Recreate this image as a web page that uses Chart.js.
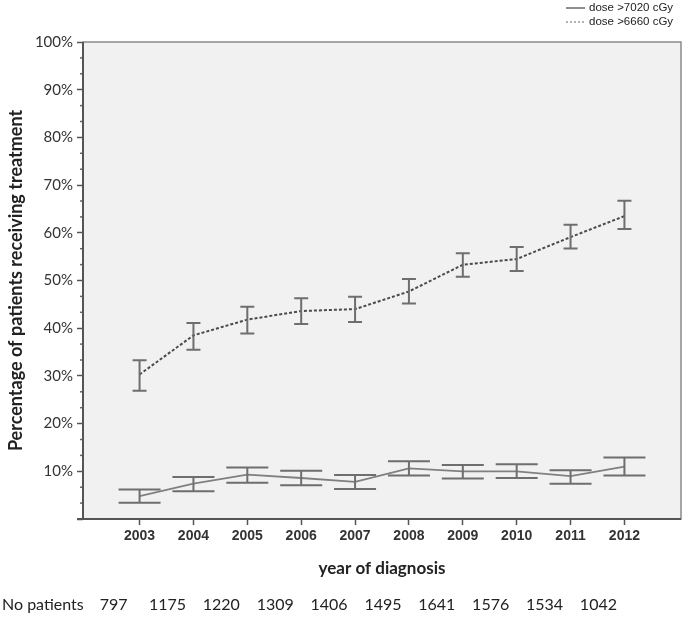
<!DOCTYPE html>
<html>
<head>
<meta charset="utf-8">
<script src="https://cdn.jsdelivr.net/npm/chart.js@4.4.1/dist/chart.umd.min.js"></script>
<style>
  html, body { margin: 0; padding: 0; background: #fff; }
  #wrap { position: relative; width: 685px; height: 618px; }
</style>
</head>
<body>
<div id="wrap"><canvas id="Chart" width="685" height="618"></canvas></div>
<script>
// data
const years = [2003, 2004, 2005, 2006, 2007, 2008, 2009, 2010, 2011, 2012];
const patients = [797, 1175, 1220, 1309, 1406, 1495, 1641, 1576, 1534, 1042];

const dose7020 = [4.8, 7.4, 9.3, 8.6, 7.8, 10.6, 10.0, 10.0, 9.0, 11.0];
const dose7020Low = [3.4, 5.8, 7.6, 7.1, 6.3, 9.1, 8.5, 8.6, 7.4, 9.1];
const dose7020High = [6.2, 8.8, 10.8, 10.1, 9.2, 12.1, 11.3, 11.5, 10.2, 12.9];

const dose6660 = [30.3, 38.5, 41.8, 43.6, 44.0, 47.7, 53.3, 54.5, 59.1, 63.5];
const dose6660Low = [26.9, 35.5, 38.9, 40.9, 41.3, 45.2, 50.8, 52.0, 56.7, 60.8];
const dose6660High = [33.3, 41.1, 44.5, 46.3, 46.6, 50.3, 55.7, 57.0, 61.7, 66.7];

const yTicks = [0, 10, 20, 30, 40, 50, 60, 70, 80, 90, 100];

function pts(vals) {
  return years.map((y, i) => ({x: y, y: vals[i]}));
}

// background, frame, error bars, minor ticks, extra texts
const extras = {
  id: 'extras',
  beforeDatasetsDraw(chart) {
    const {ctx, chartArea: a} = chart;
    ctx.save();
    ctx.fillStyle = '#f1f1f1';
    ctx.fillRect(a.left, a.top, a.right - a.left, a.bottom - a.top);
    ctx.strokeStyle = '#8a8a8a';
    ctx.lineWidth = 1.5;
    ctx.strokeRect(a.left, a.top, a.right - a.left, a.bottom - a.top);
    // minor ticks on y
    const ys = chart.scales.y;
    ctx.strokeStyle = '#666';
    ctx.lineWidth = 1.5;
    for (let v = 0; v < 100; v += 10) {
      for (const m of [10 / 3, 20 / 3]) {
        const py = ys.getPixelForValue(v + m);
        ctx.beginPath();
        ctx.moveTo(a.left - 3, py);
        ctx.lineTo(a.left, py);
        ctx.stroke();
      }
    }
    ctx.restore();
  },
  afterDatasetsDraw(chart) {
    const {ctx, chartArea: a} = chart;
    const xs = chart.scales.x, ys = chart.scales.y;
    ctx.save();
    ctx.strokeStyle = '#6e6e6e';
    ctx.lineWidth = 2;
    const bars = [[dose7020Low, dose7020High, 21], [dose6660Low, dose6660High, 7]];
    bars.forEach(([lo, hi, w]) => {
      years.forEach((yr, i) => {
        const px = xs.getPixelForValue(yr);
        const p1 = ys.getPixelForValue(lo[i]);
        const p2 = ys.getPixelForValue(hi[i]);
        ctx.beginPath();
        ctx.moveTo(px, p1); ctx.lineTo(px, p2);
        ctx.moveTo(px - w, p1); ctx.lineTo(px + w, p1);
        ctx.moveTo(px - w, p2); ctx.lineTo(px + w, p2);
        ctx.stroke();
      });
    });
    // axis lines
    ctx.strokeStyle = '#555';
    ctx.lineWidth = 2;
    ctx.beginPath();
    ctx.moveTo(a.left, a.top); ctx.lineTo(a.left, a.bottom);
    ctx.moveTo(a.left - 6, a.bottom); ctx.lineTo(a.right, a.bottom);
    ctx.stroke();

    // x title
    ctx.fillStyle = '#222';
    ctx.textAlign = 'center';
    ctx.textBaseline = 'middle';
    ctx.font = 'bold 17px Lato';
    ctx.fillText('year of diagnosis', (a.left + a.right) / 2, 569);

    // patients row
    ctx.font = '16px Lato';
    ctx.textAlign = 'left';
    ctx.fillText('No patients', 2, 605);
    ctx.textAlign = 'center';
    years.forEach((yr, i) => {
      ctx.fillText(String(patients[i]), xs.getPixelForValue(yr) - 26, 605);
    });

    // legend
    ctx.font = '11.5px "Liberation Sans"';
    ctx.textAlign = 'left';
    ctx.fillStyle = '#222';
    const legend = [['dose >7020 cGy', [], '#444', 1.2, 8], ['dose >6660 cGy', [2, 2], '#666', 1.2, 22]];
    legend.forEach(([txt, dash, col, lw, y]) => {
      ctx.strokeStyle = col;
      ctx.lineWidth = lw;
      ctx.setLineDash(dash);
      ctx.beginPath();
      ctx.moveTo(566, y); ctx.lineTo(585, y);
      ctx.stroke();
      ctx.fillText(txt, 589, y);
    });
    ctx.restore();
  }
};

const ctx = document.getElementById('Chart').getContext('2d');
const myChart = new Chart(ctx, {
  type: 'line',
  data: {
    datasets: [{
      label: 'dose >7020 cGy',
      data: pts(dose7020),
      borderColor: '#808080',
      borderWidth: 1.8,
      pointRadius: 0,
      tension: 0
    }, {
      label: 'dose >6660 cGy',
      data: pts(dose6660),
      borderColor: '#4a4a4a',
      borderWidth: 2,
      borderDash: [3, 2],
      pointRadius: 0,
      tension: 0
    }]
  },
  options: {
    responsive: false,
    animation: false,
    layout: {padding: {top: 42, right: 4, left: 0, bottom: 0}},
    plugins: {legend: {display: false}, tooltip: {enabled: false}},
    scales: {
      x: {
        type: 'linear',
        min: 2001.95,
        max: 2013.05,
        afterBuildTicks: s => { s.ticks = years.map(v => ({value: v})); },
        afterFit: s => { s.height = 99; },
        grid: {drawOnChartArea: false, tickLength: 6, tickColor: '#555', tickWidth: 1.5},
        border: {display: false},
        ticks: {
          color: '#333',
          padding: 3,
          maxRotation: 0,
          font: {family: 'Liberation Sans', size: 14, weight: 'bold'},
          callback: v => String(v)
        }
      },
      y: {
        min: 0,
        max: 100,
        afterBuildTicks: s => { s.ticks = yTicks.map(v => ({value: v})); },
        afterFit: s => { s.width = 83; },
        grid: {drawOnChartArea: false, tickLength: 6, tickColor: '#555', tickWidth: 1.5},
        border: {display: false},
        ticks: {
          color: '#333',
          padding: 4,
          font: {family: 'Lato', size: 15},
          callback: v => v === 0 ? '' : v + '%'
        },
        title: {
          display: true,
          text: 'Percentage of patients receiving treatment',
          color: '#222',
          padding: {top: 5, bottom: 0},
          font: {family: 'Lato', size: 18, weight: 'bold'}
        }
      }
    }
  },
  plugins: [extras]
});
</script>
</body>
</html>
